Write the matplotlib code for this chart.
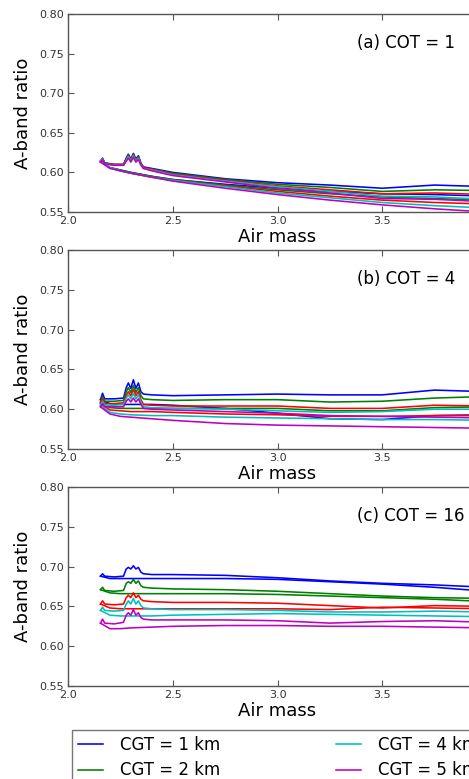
import numpy as np
import matplotlib
matplotlib.use("Agg")
import matplotlib.pyplot as plt

# air mass sampling of the two branches (branch with the bumps, smooth branch)
x_bump = [2.155, 2.165, 2.175, 2.22, 2.265, 2.278, 2.288, 2.300, 2.312, 2.324, 2.336,
          2.348, 2.36, 2.4, 2.5, 2.75, 3.0, 3.25, 3.5, 3.75, 4.0]
x_smooth = [2.155, 2.2, 2.25, 2.3, 2.4, 2.5, 2.75, 3.0, 3.25, 3.5, 3.75, 4.0]

cgt_labels = ["CGT = 1 km", "CGT = 2 km", "CGT = 3 km", "CGT = 4 km", "CGT = 5 km"]
cgt_colors = ["b", "g", "r", "c", "m"]
panel_titles = ["(a) COT = 1", "(b) COT = 4", "(c) COT = 16"]

# COT = 1
cot1_bump = [
    [0.614, 0.618, 0.612, 0.610, 0.610, 0.618, 0.623, 0.617, 0.624, 0.617, 0.621, 0.612, 0.607, 0.605, 0.600, 0.592, 0.587, 0.584, 0.580, 0.584, 0.582],
    [0.614, 0.617, 0.612, 0.610, 0.610, 0.617, 0.622, 0.616, 0.623, 0.616, 0.620, 0.611, 0.606, 0.604, 0.599, 0.591, 0.585, 0.581, 0.576, 0.578, 0.577],
    [0.614, 0.617, 0.611, 0.610, 0.610, 0.616, 0.621, 0.615, 0.622, 0.615, 0.619, 0.611, 0.606, 0.604, 0.598, 0.590, 0.583, 0.578, 0.573, 0.574, 0.572],
    [0.614, 0.617, 0.611, 0.609, 0.609, 0.615, 0.620, 0.614, 0.621, 0.614, 0.618, 0.610, 0.605, 0.603, 0.597, 0.589, 0.582, 0.576, 0.570, 0.569, 0.566],
    [0.613, 0.616, 0.611, 0.609, 0.609, 0.614, 0.618, 0.613, 0.619, 0.613, 0.616, 0.609, 0.605, 0.602, 0.596, 0.588, 0.580, 0.574, 0.567, 0.566, 0.563],
]
cot1_smooth = [
    [0.614, 0.606, 0.603, 0.600, 0.595, 0.591, 0.585, 0.580, 0.576, 0.573, 0.572, 0.570],
    [0.614, 0.606, 0.603, 0.600, 0.595, 0.591, 0.584, 0.578, 0.573, 0.569, 0.567, 0.565],
    [0.614, 0.606, 0.602, 0.599, 0.594, 0.590, 0.583, 0.576, 0.570, 0.565, 0.562, 0.560],
    [0.614, 0.606, 0.602, 0.599, 0.594, 0.590, 0.582, 0.574, 0.568, 0.562, 0.558, 0.555],
    [0.613, 0.605, 0.602, 0.599, 0.594, 0.589, 0.580, 0.572, 0.565, 0.559, 0.554, 0.550],
]

# COT = 4
cot4_bump = [
    [0.612, 0.620, 0.613, 0.613, 0.614, 0.627, 0.633, 0.626, 0.637, 0.626, 0.633, 0.622, 0.619, 0.618, 0.617, 0.618, 0.619, 0.618, 0.618, 0.624, 0.622],
    [0.609, 0.616, 0.610, 0.610, 0.611, 0.622, 0.627, 0.621, 0.630, 0.621, 0.627, 0.617, 0.613, 0.612, 0.611, 0.612, 0.612, 0.609, 0.610, 0.614, 0.616],
    [0.607, 0.613, 0.607, 0.607, 0.608, 0.617, 0.622, 0.617, 0.625, 0.617, 0.622, 0.612, 0.606, 0.605, 0.604, 0.604, 0.604, 0.601, 0.601, 0.605, 0.604],
    [0.605, 0.610, 0.605, 0.605, 0.606, 0.614, 0.618, 0.613, 0.620, 0.613, 0.618, 0.609, 0.603, 0.602, 0.601, 0.600, 0.598, 0.596, 0.597, 0.600, 0.600],
    [0.603, 0.607, 0.603, 0.603, 0.603, 0.610, 0.613, 0.609, 0.614, 0.609, 0.613, 0.606, 0.601, 0.600, 0.599, 0.597, 0.595, 0.592, 0.591, 0.590, 0.589],
]
cot4_smooth = [
    [0.612, 0.607, 0.606, 0.606, 0.606, 0.605, 0.601, 0.595, 0.588, 0.587, 0.592, 0.593],
    [0.609, 0.602, 0.601, 0.601, 0.601, 0.601, 0.601, 0.601, 0.598, 0.598, 0.602, 0.603],
    [0.607, 0.599, 0.598, 0.597, 0.597, 0.596, 0.594, 0.593, 0.591, 0.591, 0.592, 0.592],
    [0.605, 0.596, 0.594, 0.593, 0.592, 0.592, 0.590, 0.589, 0.588, 0.587, 0.587, 0.586],
    [0.603, 0.594, 0.591, 0.590, 0.588, 0.586, 0.582, 0.580, 0.579, 0.578, 0.577, 0.576],
]

# COT = 16
cot16_bump = [
    [0.688, 0.691, 0.688, 0.687, 0.688, 0.697, 0.699, 0.697, 0.701, 0.697, 0.699, 0.693, 0.691, 0.690, 0.690, 0.689, 0.686, 0.682, 0.679, 0.677, 0.674],
    [0.671, 0.674, 0.670, 0.669, 0.670, 0.679, 0.681, 0.679, 0.684, 0.679, 0.682, 0.676, 0.674, 0.673, 0.672, 0.671, 0.669, 0.666, 0.663, 0.661, 0.660],
    [0.653, 0.657, 0.653, 0.652, 0.653, 0.661, 0.664, 0.661, 0.667, 0.661, 0.664, 0.659, 0.657, 0.656, 0.655, 0.655, 0.654, 0.651, 0.648, 0.651, 0.650],
    [0.645, 0.649, 0.645, 0.644, 0.645, 0.653, 0.657, 0.653, 0.660, 0.653, 0.657, 0.651, 0.648, 0.647, 0.646, 0.646, 0.645, 0.643, 0.643, 0.644, 0.643],
    [0.629, 0.634, 0.629, 0.628, 0.630, 0.639, 0.642, 0.639, 0.646, 0.639, 0.642, 0.636, 0.634, 0.633, 0.633, 0.633, 0.632, 0.629, 0.631, 0.632, 0.630],
]
cot16_smooth = [
    [0.688, 0.685, 0.685, 0.685, 0.685, 0.685, 0.685, 0.684, 0.681, 0.678, 0.674, 0.669],
    [0.671, 0.667, 0.666, 0.666, 0.666, 0.666, 0.666, 0.665, 0.663, 0.661, 0.659, 0.656],
    [0.653, 0.648, 0.647, 0.647, 0.647, 0.647, 0.647, 0.647, 0.646, 0.649, 0.648, 0.647],
    [0.645, 0.639, 0.638, 0.638, 0.638, 0.639, 0.640, 0.641, 0.640, 0.639, 0.638, 0.637],
    [0.629, 0.622, 0.622, 0.623, 0.624, 0.625, 0.626, 0.626, 0.625, 0.625, 0.624, 0.623],
]

panels_bump = [cot1_bump, cot4_bump, cot16_bump]
panels_smooth = [cot1_smooth, cot4_smooth, cot16_smooth]

W, H = 469, 779
fig = plt.figure(figsize=(W / 100, H / 100), dpi=100)

# axes boxes in pixels: (top, bottom); the right part runs past the figure edge
ax_left, ax_right = 68, 487
boxes = [(14, 212), (250, 449), (487, 686)]

grey = "#555555"
for i in range(3):
    top, bot = boxes[i]
    ax = fig.add_axes([ax_left / W, 1 - bot / H, (ax_right - ax_left) / W, (bot - top) / H])
    for k in range(5):
        ax.plot(x_bump, panels_bump[i][k], color=cgt_colors[k], lw=1.15, label=cgt_labels[k])
        ax.plot(x_smooth, panels_smooth[i][k], color=cgt_colors[k], lw=1.15)
    ax.set_xlim(2.0, 4.0)
    ax.set_ylim(0.55, 0.80)
    ax.set_xticks([2.0, 2.5, 3.0, 3.5, 4.0])
    # the 4.0 label falls outside the cropped picture
    ax.set_xticklabels(["2.0", "2.5", "3.0", "3.5", ""])
    ax.set_yticks([0.55, 0.60, 0.65, 0.70, 0.75, 0.80])
    ax.set_yticklabels(["0.55", "0.60", "0.65", "0.70", "0.75", "0.80"])
    ax.tick_params(direction="in", top=True, right=True, length=4, width=0.8,
                   color=grey, labelsize=8, labelcolor="#333333", pad=3)
    for s in ax.spines.values():
        s.set_color(grey)
        s.set_linewidth(1.0)
    ax.set_xlabel("Air mass", fontsize=13, labelpad=1)
    ax.set_ylabel("A-band ratio", fontsize=13, labelpad=5)
    ax.text(0.69, 0.855, panel_titles[i], transform=ax.transAxes, fontsize=12,
            ha="left", va="center")
    if i == 2:
        handles, labels = ax.get_legend_handles_labels()

leg = fig.legend(handles, labels, loc="upper left", bbox_to_anchor=(72 / W, 1 - 730 / H),
                 ncol=2, fontsize=12, frameon=True, fancybox=False, borderaxespad=0,
                 handlelength=1.5, handletextpad=1.05, columnspacing=6.9,
                 labelspacing=0.45, borderpad=0.35)
leg.get_frame().set_edgecolor(grey)
leg.get_frame().set_linewidth(1.0)

fig.savefig("out.png", dpi=100)
